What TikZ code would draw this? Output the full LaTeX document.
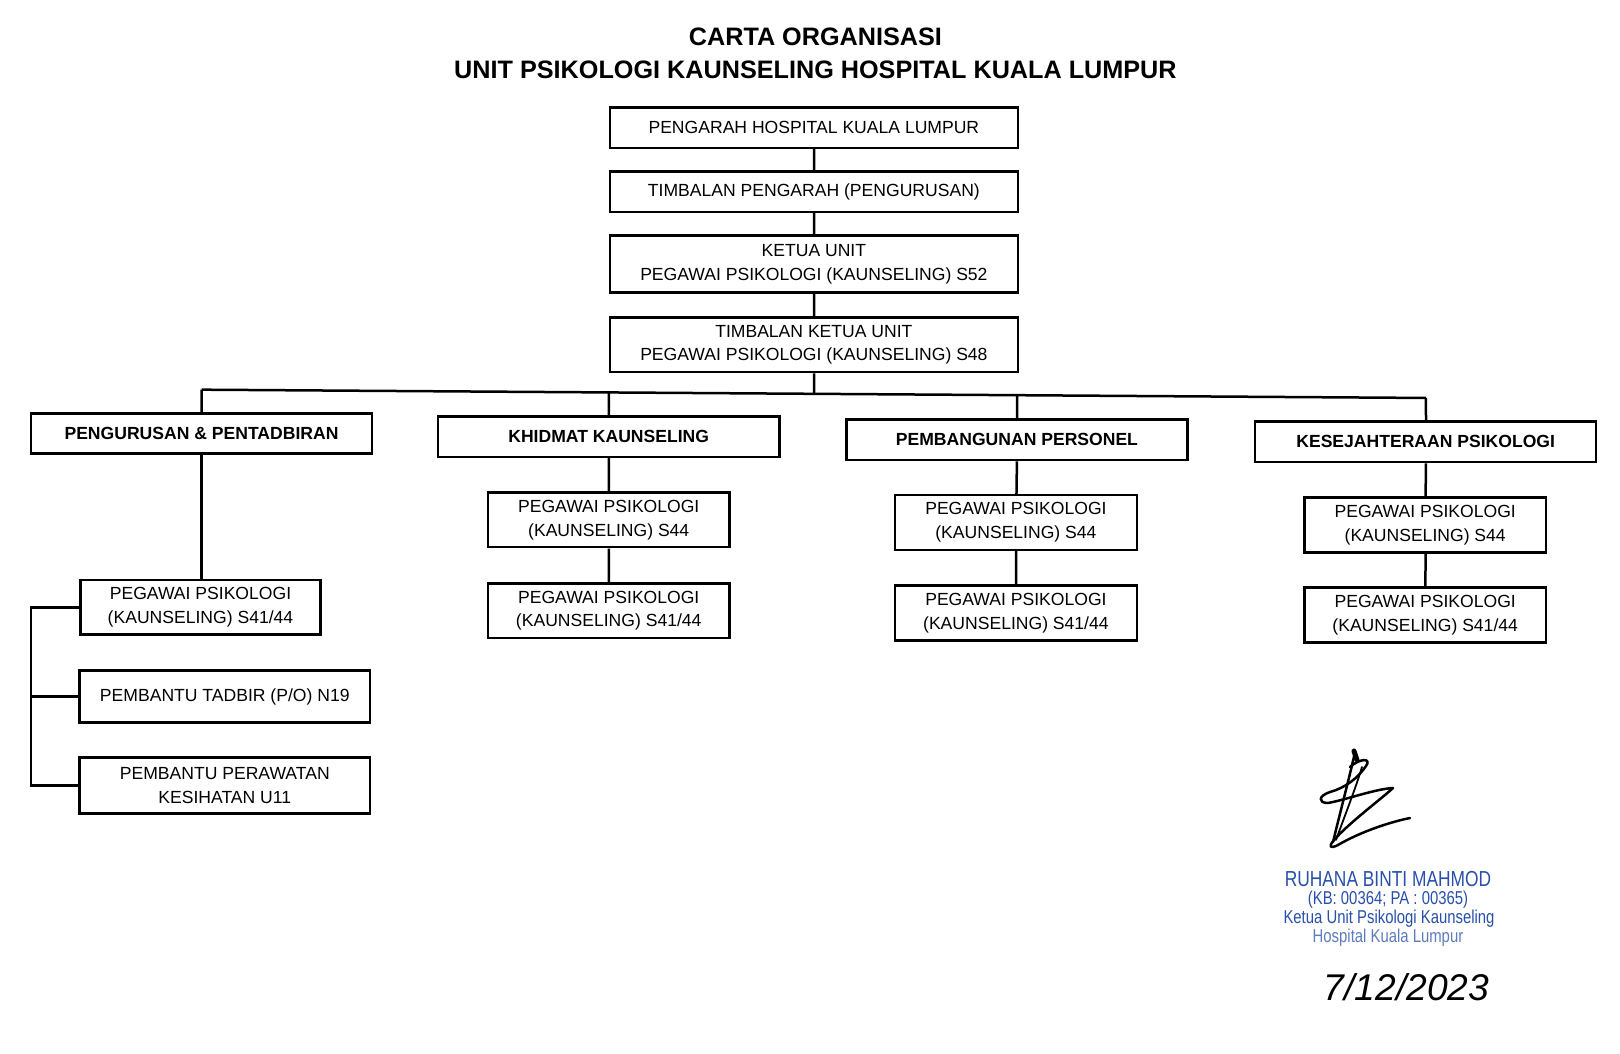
\documentclass[tikz,border=0pt]{standalone}
\usepackage{fontspec}
\setmainfont{Liberation Sans}
\newfontfamily\narrowfont[FakeStretch=0.8]{Liberation Sans}
\begin{document}
\begin{tikzpicture}[x=1pt,y=-1pt,scale=1.0335,every node/.append style={transform shape},
  box/.style={draw, line width=2.5pt, inner sep=0pt, align=center,
    font=\fontsize{17}{23}\selectfont},
  topbox/.style={box, minimum width=395pt},
  divbox/.style={box, minimum width=330pt, minimum height=39pt,
    font=\fontsize{17}{23}\selectfont\bfseries},
  subbox/.style={box, minimum width=234pt, minimum height=53pt},
  conn/.style={line width=2.5pt},
  sig/.style={line width=2.5pt, line cap=round, line join=round},
  titlefont/.style={font=\fontsize{24.4}{28}\selectfont\bfseries},
  stamp/.style={text=stampblue, inner sep=0pt, font=\narrowfont\fontsize{18}{20}\selectfont}]
\definecolor{stampblue}{RGB}{40,80,170}
\useasboundingbox (0,0) rectangle (1567.5,1018.9);
\fill[white] (0,0) rectangle (1567.5,1018.9);
% title
\node[titlefont] (t1) at (789,36) {CARTA ORGANISASI};
\node[titlefont] (t2) at (789,68) {UNIT PSIKOLOGI KAUNSELING HOSPITAL KUALA LUMPUR};
% top chain
\node[topbox, minimum height=39pt] (b1) at (787.5,123.5) {PENGARAH HOSPITAL KUALA LUMPUR};
\node[topbox, minimum height=39pt] (b2) at (787.5,185.5) {TIMBALAN PENGARAH (PENGURUSAN)};
\node[topbox, minimum height=55pt] (b3) at (787.5,255.5) {KETUA UNIT\\PEGAWAI PSIKOLOGI (KAUNSELING) S52};
\node[topbox, minimum height=53pt] (b4) at (787.5,333.5) {TIMBALAN KETUA UNIT\\PEGAWAI PSIKOLOGI (KAUNSELING) S48};
\draw[conn] (b1) -- (b2);
\draw[conn] (b2) -- (b3);
\draw[conn] (b3) -- (b4);
% divisions
\node[divbox] (d1) at (195,419.5) {PENGURUSAN \& PENTADBIRAN};
\node[divbox] (d2) at (589,422.5) {KHIDMAT KAUNSELING};
\node[divbox] (d3) at (984,425.5) {PEMBANGUNAN PERSONEL};
\node[divbox] (d4) at (1379.5,427.5) {KESEJAHTERAAN PSIKOLOGI};
\coordinate (bu1) at (195,377);
\coordinate (bu2) at (589,379.7);
\coordinate (bu3) at (984,382.3);
\coordinate (bu4) at (1379.5,385);
\coordinate (bum) at (787.5,381);
\draw[conn] (bu1) -- (bu4);
\draw[conn] (b4) -- (bum);
\draw[conn] (bu1) -- (d1);
\draw[conn] (bu2) -- (d2);
\draw[conn] (bu3) -- (d3);
\draw[conn] (bu4) -- (d4);
% columns 2-4
\node[subbox] (s2a) at (589,503) {PEGAWAI PSIKOLOGI\\(KAUNSELING) S44};
\node[subbox] (s2b) at (589,591) {PEGAWAI PSIKOLOGI\\(KAUNSELING) S41/44};
\node[subbox] (s3a) at (983,505.5) {PEGAWAI PSIKOLOGI\\(KAUNSELING) S44};
\node[subbox] (s3b) at (983,593) {PEGAWAI PSIKOLOGI\\(KAUNSELING) S41/44};
\node[subbox] (s4a) at (1379,508) {PEGAWAI PSIKOLOGI\\(KAUNSELING) S44};
\node[subbox] (s4b) at (1379,595) {PEGAWAI PSIKOLOGI\\(KAUNSELING) S41/44};
\draw[conn] (d2) -- (s2a);
\draw[conn] (s2a) -- (s2b);
\draw[conn] (d3) -- (s3a);
\draw[conn] (s3a) -- (s3b);
\draw[conn] (d4) -- (s4a);
\draw[conn] (s4a) -- (s4b);
% column 1
\node[box, minimum width=232pt, minimum height=53pt] (p1) at (194,587.5) {PEGAWAI PSIKOLOGI\\(KAUNSELING) S41/44};
\node[box, minimum width=281pt, minimum height=50pt] (p2) at (217.5,674) {PEMBANTU TADBIR (P/O) N19};
\node[box, minimum width=281pt, minimum height=54pt] (p3) at (217.5,760) {PEMBANTU PERAWATAN\\KESIHATAN U11};
\draw[conn] (d1.south) -- (d1.south |- p1.north);
\coordinate (brT) at (30,587.5);
\coordinate (brB) at (30,760);
\draw[conn] (p1.west) -- (brT) -- (brB) -- (p3.west);
\draw[conn] (p2.west) -- (p2.west -| brT);
% signature (real pixel coordinates)
\begin{scope}[scale=0.9676]
\draw[line width=5pt, line cap=round] (1354,751) -- (1357,760);
\draw[sig] (1355,752) .. controls (1350,775) and (1342,805) .. (1333,842);
\draw[sig] (1350,767) .. controls (1360,758) and (1372,758) .. (1366,766)
  .. controls (1358,778) and (1345,788) .. (1330,792)
  .. controls (1318,796) and (1318,803) .. (1328,803)
  .. controls (1345,800) and (1375,789) .. (1393,788)
  .. controls (1380,800) and (1350,822) .. (1334,840)
  .. controls (1328,847) and (1330,849) .. (1338,845)
  .. controls (1360,832) and (1390,822) .. (1410,818);
\draw[line width=1.8pt, line cap=round] (1362,767) .. controls (1355,790) and (1345,815) .. (1336,840);
\end{scope}
% stamp
\node[stamp, font=\narrowfont\fontsize{21}{24}\selectfont] (st1) at (1343,851) {RUHANA BINTI MAHMOD};
\node[stamp] (st2) at (1343,871) {(KB: 00364; PA : 00365)};
\node[stamp] (st3) at (1344,889) {Ketua Unit Psikologi Kaunseling};
\node[stamp, text=stampblue!75] (st4) at (1343,907) {Hospital Kuala Lumpur};
% date
\node[font=\fontsize{36}{40}\selectfont\itshape, inner sep=0pt] (dt) at (1361,955) {7/12/2023};
\end{tikzpicture}
\end{document}
